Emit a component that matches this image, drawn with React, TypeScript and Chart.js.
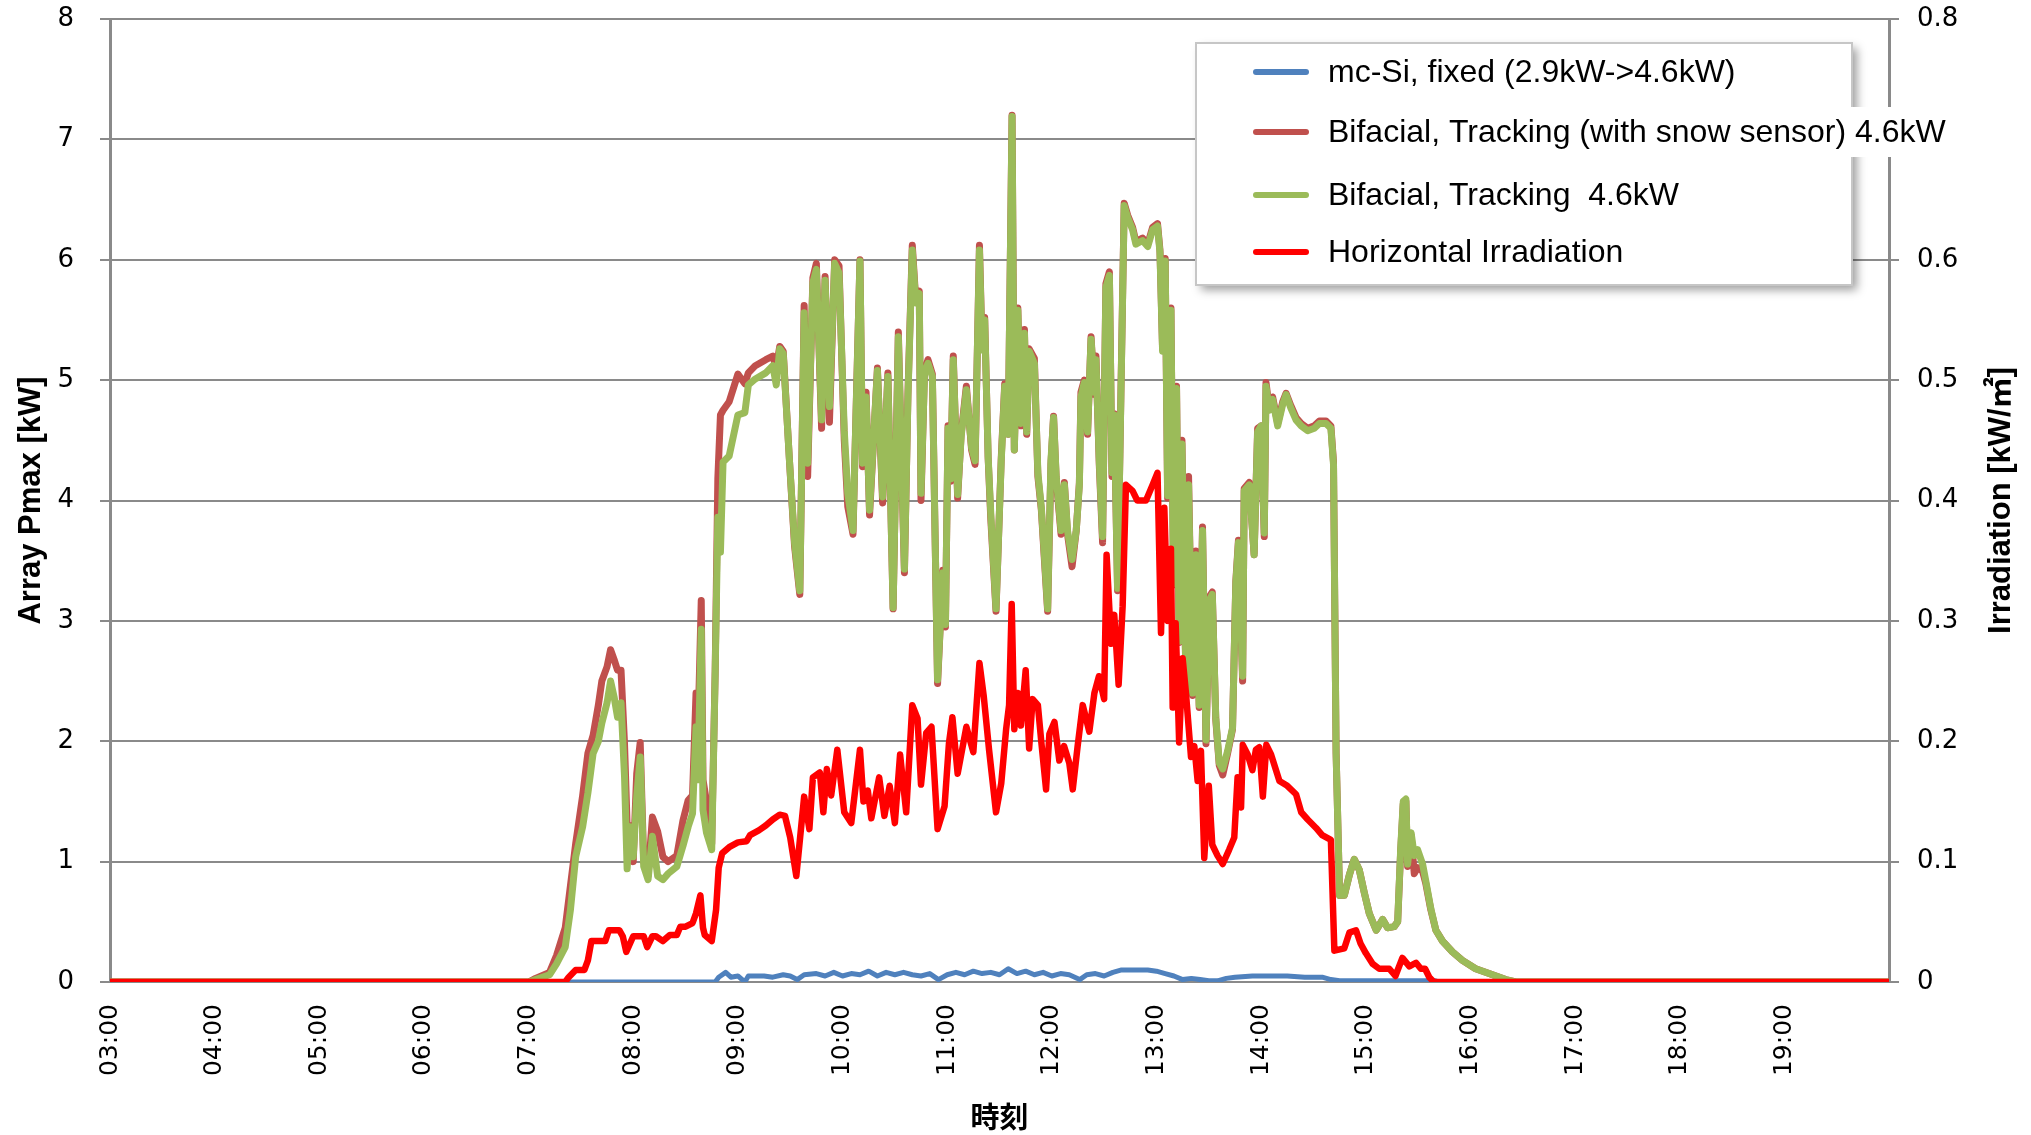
import React, { useEffect, useRef } from 'react';
import { Chart, registerables } from 'chart.js';

Chart.register(...registerables);

// ---------------- data ----------------
const timeLabels = ['03:00', '04:00', '05:00', '06:00', '07:00', '08:00', '09:00', '10:00', '11:00', '12:00', '13:00', '14:00', '15:00', '16:00', '17:00', '18:00', '19:00'];
const AXIS_START_MIN = 180; // 03:00
const AXIS_END_MIN = 1200; // 20:00

const seriesLabels = [
  'mc-Si, fixed (2.9kW->4.6kW)',
  'Bifacial, Tracking (with snow sensor) 4.6kW',
  'Bifacial, Tracking  4.6kW',
  'Horizontal Irradiation',
];
const seriesColors = ['#4F81BD', '#C0504D', '#9BBB59', '#FF0000'];

// minutes since midnight
const fixedTimes = [180, 527, 529, 533, 536, 540, 544, 546, 555, 560, 566, 570, 574, 578, 585, 590, 595, 600, 605, 610, 615, 620, 625, 630, 635, 640, 645, 650, 655, 660, 665, 670, 675, 680, 685, 690, 695, 700, 705, 710, 715, 720, 725, 730, 736, 740, 745, 750, 755, 760, 765, 770, 775, 780, 785, 790, 795, 800, 805, 810, 815, 820, 825, 835, 845, 855, 865, 875, 880, 885, 940, 942, 1200];
const fixedValues = [0, 0, 0.04, 0.08, 0.04, 0.05, 0.0, 0.05, 0.05, 0.04, 0.06, 0.05, 0.02, 0.06, 0.07, 0.05, 0.08, 0.05, 0.07, 0.06, 0.09, 0.05, 0.08, 0.06, 0.08, 0.06, 0.05, 0.07, 0.02, 0.06, 0.08, 0.06, 0.09, 0.07, 0.08, 0.06, 0.11, 0.07, 0.09, 0.06, 0.08, 0.05, 0.07, 0.06, 0.02, 0.06, 0.07, 0.05, 0.08, 0.1, 0.1, 0.1, 0.1, 0.09, 0.07, 0.05, 0.02, 0.03, 0.02, 0.01, 0.01, 0.03, 0.04, 0.05, 0.05, 0.05, 0.04, 0.04, 0.02, 0.01, 0.01, 0, 0];

const trackTimes = [180, 420, 424, 432, 436, 441, 444, 447, 451, 454, 457, 460, 462, 465, 467, 469, 471, 473, 475, 476.5, 478, 480, 482, 484, 486, 488.5, 491, 494, 497, 500, 505, 508.5, 511.5, 514, 516, 517, 519, 520, 522, 525, 527, 528.5, 530, 531.5, 535, 540, 544, 546, 550, 556, 560, 562, 564, 566, 569.5, 572.5, 575.5, 578, 580, 583, 585, 588, 590, 592.5, 595.5, 598, 601, 603, 606, 608, 610, 611.5, 613.5, 615.5, 620, 623, 626, 629, 632, 635.5, 637.5, 640, 642, 644, 645, 647, 649, 651.5, 654.5, 657.5, 659, 660.5, 662, 663.5, 666, 668, 671, 674, 676, 678.5, 680, 681.5, 683.5, 685, 688, 691, 693, 695, 697.2, 698.5, 700.5, 702.3, 704.3, 705.6, 707, 710, 712, 714, 715.7, 717.6, 719.5, 721, 722.5, 725.3, 727.2, 729, 731.6, 734, 735.8, 736.7, 738.6, 740.5, 742.5, 744.4, 745.3, 747.2, 749.1, 751, 753, 754.5, 755.8, 757.7, 759.6, 761.5, 763.5, 766.3, 768.2, 772, 775, 777.8, 780.6, 782, 783.5, 785, 786.4, 788.3, 789.8, 791.5, 793, 794.6, 797, 798.4, 800.7, 802.6, 804.5, 806.4, 808.4, 810.3, 812, 814, 816, 818, 820.8, 823.6, 825.5, 827, 829.4, 830.3, 833.2, 836, 838, 840, 841.8, 842.8, 844.7, 846.6, 849.5, 852.4, 854.3, 857, 860, 863, 866.7, 870.5, 873.4, 877.2, 880, 881.5, 883, 885, 887.7, 890.6, 893.4, 896.3, 899.2, 902, 906, 909.7, 912.5, 916.3, 918.3, 920, 921.5, 923, 924, 926, 927.8, 929.7, 932.6, 934.4, 937.3, 940.2, 944, 949.7, 955.4, 963, 970.7, 980.3, 986, 1200];
// Bifacial, Tracking (with snow sensor) [kW]
const trackSnowValues = [0, 0, 0.03, 0.08, 0.22, 0.45, 0.8, 1.15, 1.55, 1.9, 2.05, 2.3, 2.5, 2.62, 2.76, 2.68, 2.59, 2.59, 1.98, 1.3, 1.3, 1.0, 1.73, 1.99, 1.0, 0.88, 1.37, 1.25, 1.04, 1.0, 1.05, 1.34, 1.51, 1.55, 2.4, 2.0, 3.17, 1.68, 1.5, 1.15, 2.6, 4.18, 4.71, 4.75, 4.82, 5.05, 4.97, 5.06, 5.12, 5.17, 5.2, 5.1, 5.28, 5.24, 4.35, 3.62, 3.22, 5.62, 4.2, 5.85, 5.97, 4.6, 5.86, 4.65, 6.0, 5.95, 4.5, 3.95, 3.72, 4.88, 6.0, 4.28, 4.9, 3.88, 5.1, 3.98, 5.06, 3.1, 5.4, 3.4, 4.88, 6.12, 5.66, 5.74, 4.0, 5.08, 5.17, 5.05, 2.48, 3.42, 2.95, 4.62, 4.16, 5.2, 4.02, 4.55, 4.95, 4.42, 4.3, 6.12, 5.28, 5.52, 4.35, 3.85, 3.08, 4.35, 4.97, 4.55, 7.2, 4.42, 5.6, 4.62, 5.42, 4.55, 5.26, 5.18, 4.2, 3.92, 3.52, 3.08, 4.3, 4.7, 4.18, 3.72, 4.15, 3.72, 3.45, 3.75, 4.15, 4.9, 5.0, 4.55, 5.36, 4.88, 5.2, 4.3, 3.65, 5.8, 5.9, 4.2, 4.72, 3.25, 4.88, 6.47, 6.37, 6.27, 6.15, 6.18, 6.13, 6.27, 6.3, 6.08, 5.26, 6.01, 4.02, 5.6, 3.3, 4.95, 2.82, 4.5, 2.4, 4.2, 2.38, 3.58, 2.28, 3.78, 1.98, 3.2, 3.24, 2.18, 1.8, 1.72, 1.9, 2.1, 3.33, 3.67, 2.5, 4.1, 4.15, 3.55, 4.6, 4.62, 3.7, 4.98, 4.76, 4.86, 4.64, 4.82, 4.89, 4.79, 4.69, 4.64, 4.6, 4.62, 4.66, 4.66, 4.62, 4.32, 1.9, 0.72, 0.72, 0.89, 1.02, 0.93, 0.74, 0.57, 0.43, 0.52, 0.45, 0.46, 0.5, 1.08, 1.48, 1.5, 0.96, 1.22, 0.9, 0.95, 0.92, 0.82, 0.6, 0.43, 0.34, 0.25, 0.18, 0.11, 0.07, 0.02, 0, 0];
// Bifacial, Tracking [kW]
const trackValues = [0, 0, 0.02, 0.06, 0.15, 0.29, 0.6, 1.04, 1.29, 1.57, 1.9, 2.0, 2.15, 2.32, 2.5, 2.37, 2.2, 2.32, 1.71, 0.94, 1.29, 1.04, 1.54, 1.87, 0.96, 0.85, 1.21, 0.88, 0.85, 0.9, 0.96, 1.13, 1.29, 1.4, 2.12, 1.68, 2.93, 1.43, 1.24, 1.1, 2.58, 3.86, 3.57, 4.32, 4.37, 4.71, 4.73, 4.96, 5.01, 5.06, 5.12, 4.96, 5.26, 5.22, 4.35, 3.65, 3.25, 5.56, 4.31, 5.81, 5.92, 4.67, 5.83, 4.78, 5.97, 5.89, 4.58, 4.06, 3.75, 4.86, 5.99, 4.31, 4.86, 3.92, 5.08, 4.03, 5.03, 3.11, 5.36, 3.43, 4.86, 6.08, 5.64, 5.72, 4.06, 5.06, 5.14, 5.03, 2.51, 3.4, 2.97, 4.6, 4.18, 5.17, 4.05, 4.53, 4.92, 4.44, 4.33, 6.08, 5.25, 5.5, 4.36, 3.89, 3.1, 4.33, 4.95, 4.55, 7.19, 4.42, 5.58, 4.64, 5.39, 4.57, 5.24, 5.14, 4.23, 3.94, 3.55, 3.1, 4.33, 4.69, 4.2, 3.75, 4.13, 3.75, 3.51, 3.75, 4.13, 4.86, 4.98, 4.57, 5.34, 4.9, 5.17, 4.33, 3.7, 5.77, 5.87, 4.23, 4.71, 3.27, 4.86, 6.45, 6.35, 6.25, 6.13, 6.16, 6.11, 6.25, 6.28, 6.06, 5.24, 5.99, 4.04, 5.58, 3.31, 4.93, 2.83, 4.47, 2.42, 4.13, 2.4, 3.55, 2.3, 3.75, 2.01, 3.17, 3.22, 2.2, 1.82, 1.77, 1.92, 2.11, 3.31, 3.65, 2.54, 4.08, 4.13, 3.55, 4.57, 4.62, 3.73, 4.95, 4.75, 4.84, 4.62, 4.8, 4.88, 4.77, 4.67, 4.62, 4.58, 4.6, 4.64, 4.64, 4.6, 4.3, 1.9, 0.72, 0.72, 0.89, 1.02, 0.93, 0.74, 0.57, 0.43, 0.52, 0.45, 0.46, 0.5, 1.1, 1.5, 1.52, 0.98, 1.24, 1.05, 1.1, 0.98, 0.84, 0.61, 0.43, 0.34, 0.25, 0.18, 0.11, 0.07, 0.02, 0, 0];

const irrTimes = [180, 441, 443, 447, 452, 454, 456, 464, 466, 472, 474, 476, 480, 486, 488, 491, 493, 497, 501, 505, 507, 510, 514, 516, 518.5, 520, 521, 525, 527.5, 529, 531, 535, 540, 545, 547, 552, 556, 560, 564, 567, 570, 573.5, 578, 581, 583, 587, 589, 591, 593.5, 597, 601, 605, 610, 612, 614.5, 616.5, 621, 624, 627, 630, 633, 636.5, 640, 643, 645, 648, 651, 654.5, 658.5, 661, 663, 666, 671, 675, 678.5, 681, 684, 688, 691, 693.8, 695.5, 697, 698.5, 700.5, 702.3, 705, 707, 709, 712, 714, 716.7, 718.6, 721.5, 724.3, 727, 730, 732, 734.8, 737.7, 741.5, 744.4, 747, 750, 751.4, 754, 755.8, 758.3, 760.6, 762.5, 766.3, 769, 774, 777.8, 780.6, 782.6, 784.5, 786.4, 788.3, 789.3, 791, 793, 795, 796.9, 799.8, 801.7, 803.6, 805.5, 807.4, 810, 812, 815, 818, 821.7, 824.6, 826.5, 828.5, 829.5, 832.3, 835, 837, 839, 841, 843, 845.7, 850.5, 855, 860, 863, 866.7, 871.5, 875, 880, 882, 887.7, 890.6, 894.4, 897, 900, 904, 907.7, 913.5, 917, 921, 925, 928.8, 931.6, 934, 936.4, 939, 1200];
// Horizontal irradiation [kW/m2]
const irrValues = [0, 0, 0.004, 0.01, 0.01, 0.018, 0.034, 0.034, 0.043, 0.043, 0.038, 0.025, 0.038, 0.038, 0.029, 0.038, 0.038, 0.034, 0.039, 0.039, 0.046, 0.046, 0.049, 0.057, 0.072, 0.045, 0.039, 0.034, 0.06, 0.095, 0.107, 0.112, 0.116, 0.117, 0.122, 0.126, 0.13, 0.135, 0.139, 0.138, 0.12, 0.088, 0.154, 0.127, 0.17, 0.174, 0.141, 0.177, 0.155, 0.193, 0.141, 0.132, 0.193, 0.15, 0.159, 0.136, 0.17, 0.138, 0.163, 0.132, 0.189, 0.141, 0.23, 0.219, 0.164, 0.207, 0.212, 0.127, 0.146, 0.198, 0.22, 0.173, 0.212, 0.191, 0.265, 0.237, 0.193, 0.141, 0.165, 0.21, 0.23, 0.314, 0.21, 0.24, 0.213, 0.259, 0.194, 0.235, 0.23, 0.199, 0.16, 0.206, 0.216, 0.184, 0.196, 0.182, 0.16, 0.196, 0.23, 0.208, 0.24, 0.254, 0.235, 0.355, 0.281, 0.305, 0.247, 0.312, 0.413, 0.408, 0.4, 0.4, 0.413, 0.423, 0.29, 0.394, 0.3, 0.36, 0.228, 0.298, 0.199, 0.269, 0.24, 0.187, 0.196, 0.167, 0.192, 0.103, 0.163, 0.114, 0.105, 0.098, 0.11, 0.12, 0.17, 0.145, 0.197, 0.189, 0.176, 0.193, 0.195, 0.154, 0.197, 0.189, 0.167, 0.163, 0.156, 0.141, 0.135, 0.128, 0.122, 0.118, 0.026, 0.028, 0.041, 0.043, 0.032, 0.024, 0.015, 0.011, 0.011, 0.005, 0.02, 0.013, 0.016, 0.011, 0.011, 0.004, 0, 0];

const leftTicks = [0, 1, 2, 3, 4, 5, 6, 7, 8];
const rightTicks = ['0', '0.1', '0.2', '0.3', '0.4', '0.5', '0.6', '0.7', '0.8'];

const leftTitle = 'Array Pmax [kW]';
const rightTitle = 'Irradiation [kW/㎡]';
const xTitle = '時刻';

// ---------------- helpers ----------------
const toPoints = (xs: number[], ys: number[]) => xs.map((x, i) => ({ x, y: ys[i] }));

const GRID = '#8a8a8a';
const W = 2031;
const H = 1135;

const noEdgePadding = (s: any) => {
  s.paddingTop = 0;
  s.paddingBottom = 0;
  s.paddingLeft = 0;
  s.paddingRight = 0;
};

const legendPlugin = {
  id: 'boxLegend',
  afterDraw(chart: any) {
    const ctx = chart.ctx as CanvasRenderingContext2D;
    const bx = 1196, by = 43, bw = 656, bh = 242;
    const rows = [72, 132, 195, 252];
    ctx.save();
    ctx.shadowColor = 'rgba(0,0,0,0.38)';
    ctx.shadowBlur = 9;
    ctx.shadowOffsetX = 5;
    ctx.shadowOffsetY = 5;
    ctx.fillStyle = '#ffffff';
    ctx.fillRect(bx, by, bw, bh);
    ctx.restore();
    ctx.save();
    ctx.strokeStyle = '#c6c6c6';
    ctx.lineWidth = 2;
    ctx.strokeRect(bx, by, bw, bh);
    ctx.font = '32px "Liberation Sans", Arial, sans-serif';
    ctx.textBaseline = 'middle';
    ctx.textAlign = 'left';
    chart.data.datasets.forEach((ds: any, i: number) => {
      const cy = rows[i];
      const tx = 1328;
      const tw = ctx.measureText(ds.label).width;
      ctx.fillStyle = '#ffffff';
      ctx.fillRect(tx - 4, cy - 25, tw + 30, 50);
      ctx.strokeStyle = ds.borderColor;
      ctx.lineWidth = 6;
      ctx.lineCap = 'round';
      ctx.beginPath();
      ctx.moveTo(1256, cy);
      ctx.lineTo(1306, cy);
      ctx.stroke();
      ctx.fillStyle = '#000000';
      ctx.fillText(ds.label, tx, cy + 1);
    });
    ctx.restore();
  },
};

const rightTitlePlugin = {
  id: 'rightTitle',
  afterDraw(chart: any) {
    const { ctx, chartArea } = chart;
    ctx.save();
    ctx.translate(chart.width - 30, (chartArea.top + chartArea.bottom) / 2);
    ctx.rotate(-Math.PI / 2);
    ctx.font = 'bold 31px "Liberation Sans", Arial, "Noto Sans CJK JP", sans-serif';
    ctx.textAlign = 'center';
    ctx.textBaseline = 'middle';
    ctx.fillStyle = '#000000';
    ctx.fillText(rightTitle, 0, 0);
    ctx.restore();
  },
};

export default function App() {
  const canvasRef = useRef<HTMLCanvasElement | null>(null);

  useEffect(() => {
    if (!canvasRef.current) return;
    const lineBase = {
      pointRadius: 0,
      pointHoverRadius: 0,
      tension: 0,
      fill: false,
      borderJoinStyle: 'round' as const,
      borderCapStyle: 'round' as const,
    };
    const chart = new Chart(canvasRef.current, {
      type: 'line',
      data: {
        datasets: [
          { ...lineBase, label: seriesLabels[0], data: toPoints(fixedTimes, fixedValues), borderColor: seriesColors[0], backgroundColor: seriesColors[0], borderWidth: 5, yAxisID: 'y', order: 3 },
          { ...lineBase, label: seriesLabels[1], data: toPoints(trackTimes, trackSnowValues), borderColor: seriesColors[1], backgroundColor: seriesColors[1], borderWidth: 7, yAxisID: 'y', order: 2 },
          { ...lineBase, label: seriesLabels[2], data: toPoints(trackTimes, trackValues), borderColor: seriesColors[2], backgroundColor: seriesColors[2], borderWidth: 7, yAxisID: 'y', order: 1 },
          { ...lineBase, label: seriesLabels[3], data: toPoints(irrTimes, irrValues), borderColor: seriesColors[3], backgroundColor: seriesColors[3], borderWidth: 6.5, yAxisID: 'y2', order: 0 },
        ],
      },
      options: {
        responsive: false,
        animation: false,
        events: [],
        layout: { padding: { top: 19, left: 0, right: 0, bottom: 0 } },
        plugins: {
          legend: { display: false },
          tooltip: { enabled: false },
        },
        scales: {
          x: {
            type: 'linear',
            min: AXIS_START_MIN,
            max: AXIS_END_MIN,
            afterFit: (s: any) => { s.height = 153; noEdgePadding(s); },
            grid: { display: false, drawTicks: false },
            border: { display: true, color: GRID, width: 2 },
            ticks: {
              stepSize: 60,
              autoSkip: false,
              minRotation: 90,
              maxRotation: 90,
              padding: 22,
              color: '#000',
              font: { family: '"DejaVu Sans", sans-serif', size: 25 },
              callback: (v: any) => {
                const idx = Math.round((Number(v) - AXIS_START_MIN) / 60);
                return idx >= 0 && idx < timeLabels.length ? timeLabels[idx] : null;
              },
            },
            title: {
              display: true,
              text: xTitle,
              color: '#000',
              font: { family: '"Noto Sans CJK JP", sans-serif', size: 29, weight: 'bold' },
              padding: { top: 0, bottom: 1 },
            },
          },
          y: {
            position: 'left',
            min: 0,
            max: 8,
            afterFit: (s: any) => { s.width = 110; noEdgePadding(s); },
            grid: { color: GRID, lineWidth: 2, tickLength: 10, drawTicks: true },
            border: { display: true, color: GRID, width: 3 },
            ticks: {
              stepSize: 1,
              padding: 26,
              color: '#000',
              font: { family: '"DejaVu Sans", sans-serif', size: 26 },
              callback: (v: any) => {
                const i = leftTicks.indexOf(Math.round(Number(v)));
                return i >= 0 ? String(leftTicks[i]) : null;
              },
            },
            title: {
              display: true,
              text: leftTitle,
              color: '#000',
              font: { family: '"Liberation Sans", Arial, sans-serif', size: 31, weight: 'bold' },
              padding: { top: 13, bottom: 0 },
            },
          },
          y2: {
            position: 'right',
            min: 0,
            max: 0.8,
            afterFit: (s: any) => { s.width = 142; noEdgePadding(s); },
            grid: { drawOnChartArea: false, color: GRID, lineWidth: 2, tickLength: 10, drawTicks: true },
            border: { display: true, color: GRID, width: 3 },
            ticks: {
              stepSize: 0.1,
              padding: 18,
              color: '#000',
              font: { family: '"DejaVu Sans", sans-serif', size: 26 },
              callback: (v: any) => {
                const i = Math.round(Number(v) * 10);
                return i >= 0 && i < rightTicks.length ? rightTicks[i] : null;
              },
            },
          },
        },
      } as any,
      plugins: [legendPlugin, rightTitlePlugin],
    });
    return () => chart.destroy();
  }, []);

  return (
    <div style={{ position: 'fixed', left: 0, top: 0, width: W + 'px', height: H + 'px', background: '#ffffff' }}>
      <canvas ref={canvasRef} width={W} height={H} style={{ display: 'block' }} />
    </div>
  );
}
